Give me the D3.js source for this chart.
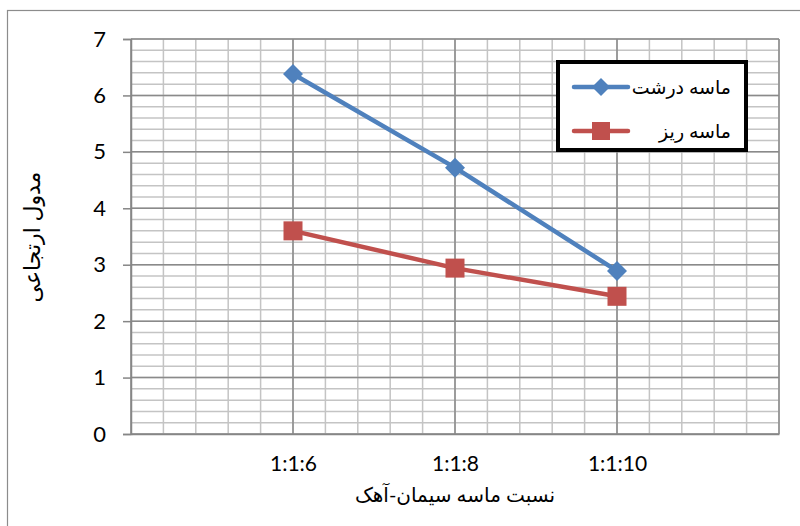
<!DOCTYPE html>
<html><head><meta charset="utf-8">
<script src="https://cdn.jsdelivr.net/npm/d3@7"></script>
<style>
html,body{margin:0;padding:0;background:#fff;}
text{font-family:Lato,"DejaVu Sans",sans-serif;}
</style></head>
<body>
<svg id="c" width="800" height="526"></svg>
<script>
const categories = ["1:1:6", "1:1:8", "1:1:10"];
const seriesNames = ["ماسه درشت", "ماسه ریز"];
const coarseSand = [6.38, 4.72, 2.89];
const fineSand = [3.60, 2.94, 2.44];
const yTicks = [0, 1, 2, 3, 4, 5, 6, 7];
const xTitle = "نسبت ماسه سیمان-آهک";
const yTitle = "مدول ارتجاعی";

const svg = d3.select("#c");
const L = 131, R = 779, T = 39, B = 434;
const x = d3.scaleLinear().domain([0, categories.length + 1]).range([L, R]);
const y = d3.scaleLinear().domain([0, 7]).range([B, T]);

// outer border
svg.append("rect").attr("x", 7.5).attr("y", 10.5).attr("width", 820).attr("height", 540)
  .attr("fill", "none").attr("stroke", "#8c8c8c").attr("stroke-width", 1.2);

const g = svg.append("g");
// minor gridlines
const minorY = d3.range(0, 7.0001, 0.2);
g.selectAll(".my").data(minorY).join("line")
  .attr("x1", L).attr("x2", R).attr("y1", d => y(d)).attr("y2", d => y(d))
  .attr("stroke", "#c4c4c4").attr("stroke-width", 1.5);
const minorX = d3.range(0, categories.length + 1.0001, 0.2);
g.selectAll(".mx").data(minorX).join("line")
  .attr("y1", T).attr("y2", B).attr("x1", d => x(d)).attr("x2", d => x(d))
  .attr("stroke", "#c4c4c4").attr("stroke-width", 1.5);
// major gridlines
g.selectAll(".My").data(yTicks).join("line")
  .attr("x1", L).attr("x2", R).attr("y1", d => y(d)).attr("y2", d => y(d))
  .attr("stroke", "#8a8a8a").attr("stroke-width", 1.5);
g.selectAll(".Mx").data(d3.range(0, categories.length + 2)).join("line")
  .attr("y1", T).attr("y2", B).attr("x1", d => x(d)).attr("x2", d => x(d))
  .attr("stroke", "#8a8a8a").attr("stroke-width", 1.5);

// y axis
const yAxis = d3.axisLeft(y).tickValues(yTicks).tickSize(8).tickPadding(17).tickFormat(d3.format("d"));
const ya = svg.append("g").attr("transform", `translate(${L},0)`).call(yAxis);
ya.select(".domain").attr("stroke", "#868686").attr("stroke-width", 1.5);
ya.selectAll(".tick line").attr("stroke", "#868686").attr("stroke-width", 1.5);
ya.selectAll("text").attr("font-size", 22).attr("fill", "#000").attr("font-family", "Lato,'DejaVu Sans',sans-serif");

// x axis
const xa = svg.append("g").attr("transform", `translate(0,${B})`)
  .call(d3.axisBottom(x).tickValues(categories.map((c, i) => i + 1)).tickSize(0).tickPadding(22)
    .tickFormat(d => categories[d - 1]));
xa.select(".domain").attr("stroke", "#868686").attr("stroke-width", 1.5);
xa.selectAll("text").attr("font-size", 21).attr("fill", "#000").attr("font-family", "Lato,'DejaVu Sans',sans-serif");

// titles
svg.append("text").attr("x", 455).attr("y", 502).attr("text-anchor", "middle")
  .attr("font-size", 20).attr("font-family", "'DejaVu Sans',sans-serif").text(xTitle);
svg.append("text").attr("transform", "translate(40,237) rotate(-90)").attr("text-anchor", "middle")
  .attr("font-size", 22).attr("font-family", "'DejaVu Sans',sans-serif").text(yTitle);

const colors = ["#4F81BD", "#C0504D"];
const line = d3.line().x((d, i) => x(i + 1)).y(d => y(d));
[coarseSand, fineSand].forEach((vals, s) => {
  svg.append("path").datum(vals).attr("d", line).attr("fill", "none")
    .attr("stroke", colors[s]).attr("stroke-width", 4.5).attr("stroke-linejoin", "round");
});
const diamond = (cx, cy, r) => `M${cx},${cy - r}L${cx + r},${cy}L${cx},${cy + r}L${cx - r},${cy}Z`;
svg.selectAll(".d").data(coarseSand).join("path")
  .attr("d", (d, i) => diamond(x(i + 1), y(d), 10)).attr("fill", colors[0]);
svg.selectAll(".s").data(fineSand).join("rect")
  .attr("x", (d, i) => x(i + 1) - 9.5).attr("y", d => y(d) - 9.5)
  .attr("width", 19).attr("height", 19).attr("fill", colors[1]);

// legend
const lg = svg.append("g");
lg.append("rect").attr("x", 558).attr("y", 62).attr("width", 188).attr("height", 88)
  .attr("fill", "#fff").attr("stroke", "#000").attr("stroke-width", 4);
seriesNames.forEach((n, s) => {
  const cy = s === 0 ? 87 : 131;
  lg.append("line").attr("x1", 574).attr("x2", 628).attr("y1", cy).attr("y2", cy)
    .attr("stroke", colors[s]).attr("stroke-width", 4.5).attr("stroke-linecap", "round");
  if (s === 0) lg.append("path").attr("d", diamond(601, cy, 9)).attr("fill", colors[0]);
  else lg.append("rect").attr("x", 592).attr("y", cy - 9).attr("width", 18).attr("height", 18).attr("fill", colors[1]);
  lg.append("text").attr("x", 731).attr("y", cy + 7).attr("text-anchor", "end")
    .attr("font-size", 19).attr("font-family", "'DejaVu Sans',sans-serif").text(n);
});
</script>
</body></html>
